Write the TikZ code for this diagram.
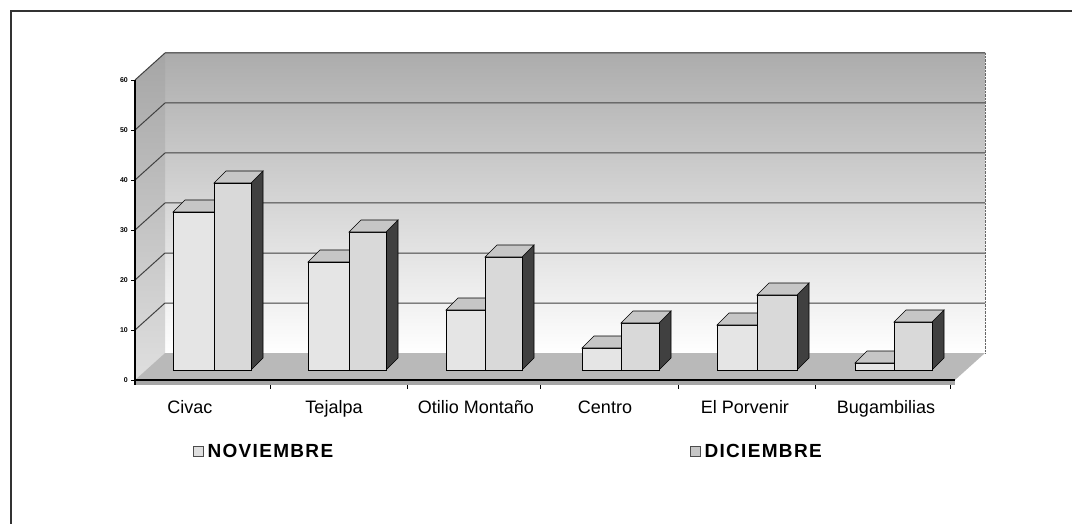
\documentclass[tikz,border=0pt]{standalone}
\usepackage{fontspec}
\setmainfont{Liberation Sans}
\usetikzlibrary{positioning}

\newcommand{\drawbar}[5]{%
  \pgfmathsetmacro{\bartop}{370-50*#3}
  \filldraw[fill=#5, draw=black, line width=0.6pt] (#1+#2,370) -- (#1+#2+12,358) -- (#1+#2+12,\bartop-12) -- (#1+#2,\bartop) -- cycle;
  \filldraw[fill=#4, draw=black, line width=0.6pt] (#1,370) rectangle (#1+#2,\bartop);
  \filldraw[fill=gray!45, draw=black, line width=0.6pt] (#1,\bartop) -- (#1+12,\bartop-12) -- (#1+#2+12,\bartop-12) -- (#1+#2,\bartop) -- cycle;
}

\begin{document}
\begin{tikzpicture}[x=1pt,y=-1pt,
  every node/.style={inner sep=0pt},
  catlabel/.style={font=\fontsize{18}{20}\selectfont, anchor=base},
  axislabel/.style={font=\fontsize{7}{8}\selectfont\bfseries, anchor=east},
  legendbox/.style={draw=black!70, minimum size=10pt, line width=0.6pt},
  legendtext/.style={font=\fontsize{19}{21}\selectfont\bfseries\addfontfeature{LetterSpace=7}},
  gridline/.style={black!75, line width=1pt}]
  \useasboundingbox (0,0) rectangle (1072,524);
  \draw[black!80, line width=1.2pt] (11,524) -- (11,11) -- (1072,11);
  \shade[top color=gray!65, bottom color=white] (165,53) rectangle (985,353);
  \shade[top color=gray!70, bottom color=gray!25] (135,380) -- (135,80) -- (165,53) -- (165,353) -- cycle;
  \foreach \k in {1,...,6}
    \draw[gridline] (135,380-50*\k) -- (165,353-50*\k) -- (985,353-50*\k);
  \draw[black!60, densely dotted] (985,53) -- (985,353);
  \fill[gray!55] (135,380) -- (955,380) -- (985,353) -- (165,353) -- cycle;
  \fill[gray!70] (135,380) rectangle (955,385);
  \draw[black, line width=1.2pt] (135,380) -- (955,380);
  \draw[black, line width=1.2pt] (135,80) -- (135,385);
  \foreach \k/\val in {0/0,1/10,2/20,3/30,4/40,5/50,6/60} {
    \draw (131,380-50*\k) -- (135,380-50*\k);
    \node[axislabel] (y\k) at (128,380-50*\k) {\val};
  }
  \foreach \c in {270,407,540,678,815,950}
    \draw[line width=0.8pt] (\c,385) -- (\c,389);
  \drawbar{173}{41}{3.16}{gray!20}{gray!50}
  \drawbar{214}{37}{3.74}{gray!30}{black!75}
  \drawbar{308}{41}{2.16}{gray!20}{gray!50}
  \drawbar{349}{37}{2.76}{gray!30}{black!75}
  \drawbar{446}{39}{1.20}{gray!20}{gray!50}
  \drawbar{485}{37}{2.26}{gray!30}{black!75}
  \drawbar{582}{39}{0.44}{gray!20}{gray!50}
  \drawbar{621}{38}{0.94}{gray!30}{black!75}
  \drawbar{717}{40}{0.90}{gray!20}{gray!50}
  \drawbar{757}{40}{1.50}{gray!30}{black!75}
  \drawbar{855}{39}{0.14}{gray!20}{gray!50}
  \drawbar{894}{38}{0.96}{gray!30}{black!75}
  \node[catlabel] (civac)     at (190,413) {Civac};
  \node[catlabel] (tejalpa)   at (334,413) {Tejalpa};
  \node[catlabel] (otilio)    at (476,413) {Otilio Montaño};
  \node[catlabel] (centro)    at (605,413) {Centro};
  \node[catlabel] (porvenir)  at (745,413) {El Porvenir};
  \node[catlabel] (bugamb)    at (886,413) {Bugambilias};
  \node[legendbox, fill=gray!25] (novbox) at (198,451) {};
  \node[legendtext, right=4pt of novbox] (novtext) {NOVIEMBRE};
  \node[legendbox, fill=gray!45] (dicbox) at (695,451) {};
  \node[legendtext, right=4pt of dicbox] (dictext) {DICIEMBRE};
\end{tikzpicture}
\end{document}
